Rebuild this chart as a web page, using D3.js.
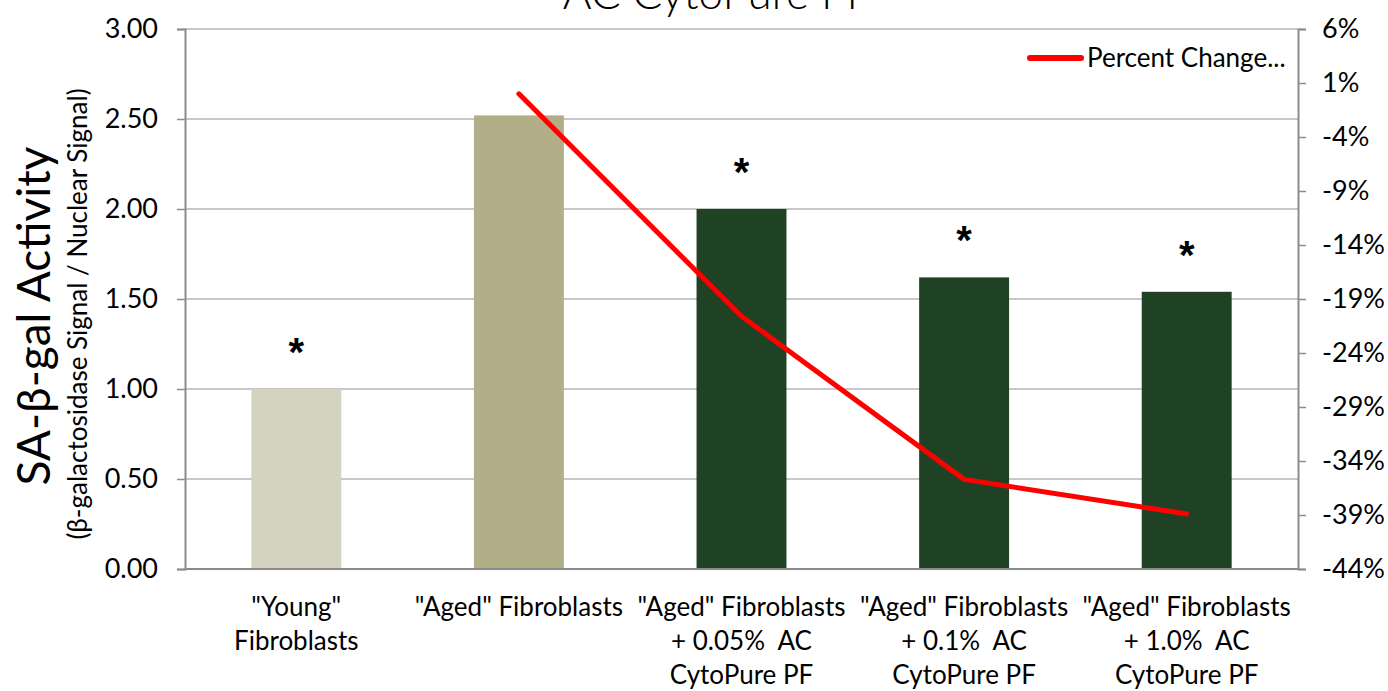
<!DOCTYPE html>
<html>
<head>
<meta charset="utf-8">
<script src="https://cdn.jsdelivr.net/npm/d3@7"></script>
<style>
  body { margin: 0; background: #fff; }
  text { font-family: Lato, "Noto Sans", sans-serif; fill: #000; }
</style>
</head>
<body>
<div id="chart"></div>
<script>
const categories = [
    ['"Young"', 'Fibroblasts'],
    ['"Aged" Fibroblasts'],
    ['"Aged" Fibroblasts', '+ 0.05%  AC', 'CytoPure PF'],
    ['"Aged" Fibroblasts', '+ 0.1%  AC', 'CytoPure PF'],
    ['"Aged" Fibroblasts', '+ 1.0%  AC', 'CytoPure PF']
];
const activity = [1.00, 2.52, 2.00, 1.62, 1.54];
const significant = [true, false, true, true, true];
const barColors = ['#d3d3bf', '#b1ae88', '#1f4224', '#1f4224', '#1f4224'];
// percent change vs "Aged", no point for "Young"
const percentChange = [null, 0.0, -20.6, -35.7, -38.9];
const leftTicks = [0, 0.5, 1, 1.5, 2, 2.5, 3];
const rightTicks = [6, 1, -4, -9, -14, -19, -24, -29, -34, -39, -44];

const width = 1388, height = 691;
const margin = {top: 29, right: 90, bottom: 122, left: 185};

const svg = d3.select('#chart').append('svg')
    .attr('width', width)
    .attr('height', height);

const x = d3.scaleBand()
    .domain(d3.range(categories.length))
    .range([margin.left, width - margin.right])
    .paddingInner(0.596)
    .paddingOuter(0.298);

const y = d3.scaleLinear()
    .domain([0, 3])
    .range([height - margin.bottom, margin.top]);

const y2 = d3.scaleLinear()
    .domain([-44, 6])
    .range([height - margin.bottom, margin.top]);

// gridlines
svg.append('g')
    .selectAll('line')
    .data(leftTicks)
    .enter()
    .append('line')
    .attr('x1', margin.left)
    .attr('x2', width - margin.right)
    .attr('y1', d => y(d))
    .attr('y2', d => y(d))
    .attr('stroke', '#b4b4b4')
    .attr('stroke-width', 1.5);

// bars
svg.append('g')
    .selectAll('rect')
    .data(activity)
    .enter()
    .append('rect')
    .attr('x', (d, i) => x(i))
    .attr('width', x.bandwidth())
    .attr('y', d => y(d))
    .attr('height', d => y(0) - y(d))
    .attr('fill', (d, i) => barColors[i]);

// asterisks
const starData = activity.map((v, i) => ({i: i, v: v})).filter(d => significant[d.i]);
svg.append('g')
    .selectAll('text')
    .data(starData)
    .enter()
    .append('text')
    .attr('x', d => x(d.i) + x.bandwidth() / 2)
    .attr('y', d => y(d.v) - 23)
    .attr('text-anchor', 'middle')
    .style('font-family', '"Liberation Sans", Arial, sans-serif')
    .style('font-size', '40px')
    .style('font-weight', 'bold')
    .text('*');

// left axis
const leftAxis = svg.append('g')
    .attr('transform', `translate(${margin.left},0)`)
    .call(d3.axisLeft(y).tickValues(leftTicks).tickFormat(d3.format('.2f')).tickSize(8));

// right axis
const rightAxis = svg.append('g')
    .attr('transform', `translate(${width - margin.right},0)`)
    .call(d3.axisRight(y2).tickValues(rightTicks).tickFormat(d => d + '%').tickSize(8));

// bottom axis line
svg.append('line')
    .attr('x1', margin.left)
    .attr('x2', width - margin.right)
    .attr('y1', y(0))
    .attr('y2', y(0))
    .attr('stroke', '#8c8c8c')
    .attr('stroke-width', 2);

[leftAxis, rightAxis].forEach(a => {
    a.select('.domain').attr('stroke', '#8c8c8c').attr('stroke-width', 2);
    a.selectAll('.tick line').attr('stroke', '#8c8c8c').attr('stroke-width', 1.5);
    a.selectAll('.tick text').style('font-size', '27px').attr('fill', '#000');
});
leftAxis.selectAll('.tick text').attr('x', -27);
rightAxis.selectAll('.tick text').attr('x', 24);

// category labels
const catLabels = svg.append('g')
    .selectAll('text')
    .data(categories)
    .enter()
    .append('text')
    .attr('x', (d, i) => x(i) + x.bandwidth() / 2)
    .attr('y', 616)
    .attr('text-anchor', 'middle')
    .style('font-size', '26px')
    .style('white-space', 'pre');

catLabels.selectAll('tspan')
    .data(d => d)
    .enter()
    .append('tspan')
    .attr('x', function() { return this.parentNode.getAttribute('x'); })
    .attr('dy', (d, i) => i === 0 ? 0 : 34)
    .text(d => d);

// percent change line
const line = d3.line()
    .defined(d => d != null)
    .x((d, i) => x(i) + x.bandwidth() / 2)
    .y(d => y2(d));

svg.append('path')
    .datum(percentChange)
    .attr('d', line)
    .attr('fill', 'none')
    .attr('stroke', '#ff0000')
    .attr('stroke-width', 5)
    .attr('stroke-linecap', 'round')
    .attr('stroke-linejoin', 'round');

// legend
svg.append('line')
    .attr('x1', 1030)
    .attr('x2', 1081)
    .attr('y1', 58)
    .attr('y2', 58)
    .attr('stroke', '#ff0000')
    .attr('stroke-width', 6)
    .attr('stroke-linecap', 'round');

svg.append('text')
    .attr('x', 1087)
    .attr('y', 67)
    .style('font-size', '26px')
    .text('Percent Change...');

// title (cut off at top, as in the source)
svg.append('text')
    .attr('x', 717)
    .attr('y', 9)
    .attr('text-anchor', 'middle')
    .style('font-size', '44px')
    .style('font-weight', 300)
    .text('AC CytoPure PF');

// y axis titles
svg.append('text')
    .attr('transform', 'translate(50,316) rotate(-90)')
    .attr('text-anchor', 'middle')
    .style('font-size', '46px')
    .text('SA-β-gal Activity');

svg.append('text')
    .attr('transform', 'translate(87,314) rotate(-90)')
    .attr('text-anchor', 'middle')
    .style('font-size', '26px')
    .text('(β-galactosidase Signal / Nuclear Signal)');
</script>
</body>
</html>
